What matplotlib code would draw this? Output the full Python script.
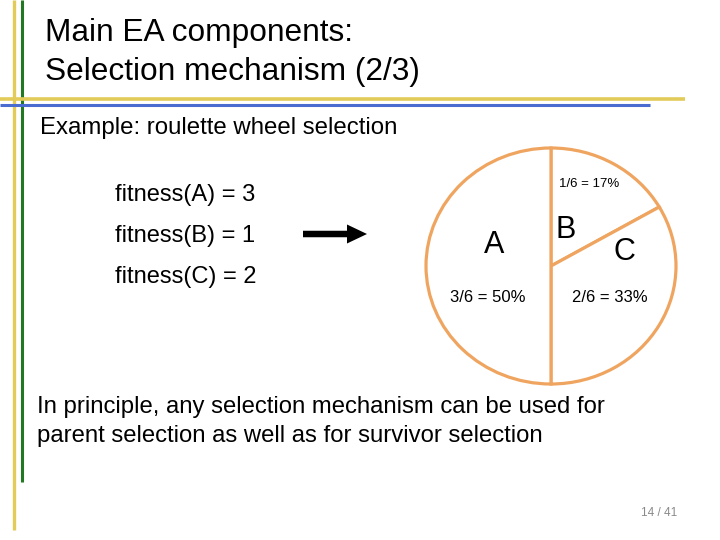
import matplotlib
matplotlib.use("Agg")
from matplotlib import pyplot as plt
from matplotlib.patches import FancyArrow

plt.rcParams['font.family'] = ['Liberation Sans', 'DejaVu Sans']

# data
names = ['A', 'B', 'C']
fitness = [3, 1, 2]
shares = ['3/6 = 50%', '1/6 = 17%', '2/6 = 33%']

ORANGE = '#EFA560'
YELLOW = '#E3CB5A'
GREEN = '#217A21'
BLUE = '#4A6BD0'

fig = plt.figure(figsize=(7.2, 5.4), dpi=100)
fig.patch.set_facecolor('white')

# roulette wheel (drawn first, below the text layer)
cx, cy, rw, rh = 551, 266, 125, 118
pad = 1.1
ax = fig.add_axes([(cx - rw * pad) / 720, 1 - (cy + rh * pad) / 540,
                   2 * rw * pad / 720, 2 * rh * pad / 540])
order = [1, 2, 0]  # B, C, A clockwise from the top
ax.pie([fitness[i] for i in order], startangle=90, counterclock=False,
       colors=['white'] * 3,
       wedgeprops=dict(edgecolor=ORANGE, linewidth=2.3))
ax.set_aspect('auto')
ax.set_xlim(-pad, pad)
ax.set_ylim(-pad, pad)
ax.axis('off')

# overlay in pixel coords for slide decoration and text
ov = fig.add_axes([0, 0, 1, 1])
ov.set_zorder(5)
ov.set_xlim(0, 720)
ov.set_ylim(540, 0)
ov.axis('off')

ov.plot([13.5, 13.5], [0, 530], color=YELLOW, lw=2.4, solid_capstyle='butt')
ov.plot([22, 22], [0, 482], color=GREEN, lw=2.2, solid_capstyle='butt')
ov.plot([0, 685], [98.5, 98.5], color=YELLOW, lw=2.6, solid_capstyle='butt')
ov.plot([0, 650], [105, 105], color=BLUE, lw=2.2, solid_capstyle='butt')

ov.text(45, 33, 'Main EA components:', fontsize=22.8, va='center', ha='left')
ov.text(45, 72, 'Selection mechanism (2/3)', fontsize=22.8, va='center', ha='left')
ov.text(40, 128, 'Example: roulette wheel selection', fontsize=17.3, va='center', ha='left')

for i, (n, f) in enumerate(zip(names, fitness)):
    ov.text(115, 195 + i * 41, f'fitness({n}) = {f}', fontsize=17, va='center', ha='left')

ov.add_patch(FancyArrow(303, 234, 64, 0, width=6.5, head_width=19, head_length=20,
                        length_includes_head=True, color='black', lw=0))

ov.text(37, 407, 'In principle, any selection mechanism can be used for',
        fontsize=17.2, va='center', ha='left')
ov.text(37, 436, 'parent selection as well as for survivor selection',
        fontsize=17.2, va='center', ha='left')
ov.text(659, 513, '14 / 41', fontsize=8.5, color='#8a8a8a', va='center', ha='center')

ov.text(494, 245, 'A', fontsize=22, va='center', ha='center')
ov.text(566, 230, 'B', fontsize=22, va='center', ha='center')
ov.text(624, 252, 'C', fontsize=22, va='center', ha='center')
ov.text(589, 184, shares[1], fontsize=9.5, va='center', ha='center')
ov.text(488, 297, shares[0], fontsize=12, va='center', ha='center')
ov.text(610, 297, shares[2], fontsize=12, va='center', ha='center')

fig.savefig('out.png', dpi=100)
